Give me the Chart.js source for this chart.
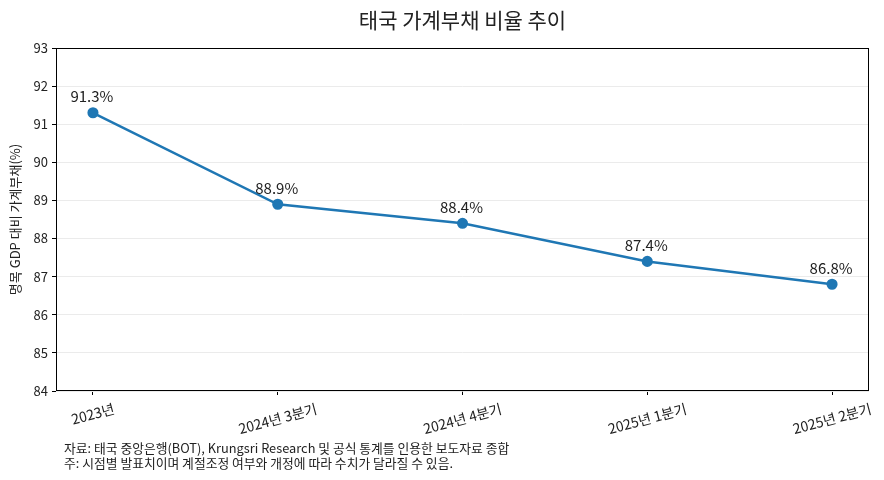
<!DOCTYPE html>
<html>
<head>
<meta charset="utf-8">
<script src="https://cdn.jsdelivr.net/npm/chart.js@4.4.0/dist/chart.umd.min.js"></script>
<style>
  body { margin: 0; background: #fff; }
  #wrap { width: 884px; height: 480px; }
</style>
</head>
<body>
<div id="wrap"><canvas id="myChart"></canvas></div>
<script>
var categories = ['2023년', '2024년 3분기', '2024년 4분기', '2025년 1분기', '2025년 2분기'];
var debtRatio = [91.3, 88.9, 88.4, 87.4, 86.8];
var yTicks = [84, 85, 86, 87, 88, 89, 90, 91, 92, 93];

var titleText = '태국 가계부채 비율 추이';
var yLabel = '명목 GDP 대비 가계부채(%)';
var notes = [
    '자료: 태국 중앙은행(BOT), Krungsri Research 및 공식 통계를 인용한 보도자료 종합',
    '주: 시점별 발표치이며 계절조정 여부와 개정에 따라 수치가 달라질 수 있음.'
];

var FONT = '"Noto Sans CJK KR", "Noto Sans", sans-serif';

var points = debtRatio.map(function (v, i) { return { x: i, y: v }; });

// title, frame, rotated x labels, value labels, y title, notes
var extras = {
    id: 'extras',
    afterDraw: function (chart) {
        var c = chart.ctx;
        var a = chart.chartArea;
        var xs = chart.scales.x;
        var ys = chart.scales.y;
        var rot = 15 * Math.PI / 180;
        c.save();

        c.strokeStyle = '#000';
        c.lineWidth = 1;
        c.strokeRect(a.left + 0.5, a.top + 0.5, a.right - a.left - 1, a.bottom - a.top - 1);

        c.fillStyle = '#222';
        c.font = '21px ' + FONT;
        c.textAlign = 'center';
        c.textBaseline = 'middle';
        c.fillText(titleText, (a.left + a.right) / 2, 20);

        // rotated labels, top of rotated box fixed below the axis
        c.font = '14px ' + FONT;
        categories.forEach(function (lab, i) {
            var x = xs.getPixelForValue(i);
            var w = c.measureText(lab).width;
            var boxH = w * Math.sin(rot) + 13 * Math.cos(rot);
            c.save();
            c.translate(x, a.bottom + 11 + boxH / 2);
            c.rotate(-rot);
            c.fillText(lab, 0, 0);
            c.restore();
        });

        c.font = '15px ' + FONT;
        debtRatio.forEach(function (v, i) {
            var x = xs.getPixelForValue(i);
            var y = ys.getPixelForValue(v);
            c.fillText(v.toFixed(1) + '%', x - 1, y - 16);
        });

        c.save();
        c.font = '13px ' + FONT;
        c.translate(15, (a.top + a.bottom) / 2);
        c.rotate(-Math.PI / 2);
        c.fillText(yLabel, 0, 0);
        c.restore();

        c.font = '12.8px ' + FONT;
        c.textAlign = 'left';
        c.fillText(notes[0], 64, 448);
        c.fillText(notes[1], 64, 463);

        c.restore();
    }
};

var ctx = document.getElementById('myChart').getContext('2d');
var myChart = new Chart(ctx, {
    type: 'line',
    data: {
        datasets: [{
            data: points,
            borderColor: '#1f77b4',
            backgroundColor: '#1f77b4',
            borderWidth: 2.5,
            pointRadius: 4.3,
            pointHoverRadius: 4.3,
            tension: 0
        }]
    },
    options: {
        responsive: true,
        maintainAspectRatio: false,
        animation: false,
        layout: { padding: { left: 0, top: 48, right: 15, bottom: 0 } },
        plugins: {
            legend: { display: false },
            title: { display: false },
            tooltip: { enabled: false }
        },
        scales: {
            x: {
                type: 'linear',
                min: -0.2,
                max: 4.2,
                afterBuildTicks: function (s) {
                    s.ticks = categories.map(function (_, i) { return { value: i }; });
                },
                afterFit: function (s) { s.height = 89; },
                ticks: { display: false },
                border: { display: false },
                grid: { drawOnChartArea: false, drawTicks: true, tickLength: 4, tickColor: '#000', color: '#000' }
            },
            y: {
                min: 84,
                max: 93,
                afterBuildTicks: function (s) {
                    s.ticks = yTicks.map(function (v) { return { value: v }; });
                },
                afterFit: function (s) { s.width = 56; },
                ticks: { color: '#222', font: { family: FONT, size: 13 }, padding: 4 },
                border: { display: false },
                grid: { color: '#ebebeb', lineWidth: 1, tickLength: 4, tickColor: '#000' }
            }
        }
    },
    plugins: [extras]
});
</script>
</body>
</html>
